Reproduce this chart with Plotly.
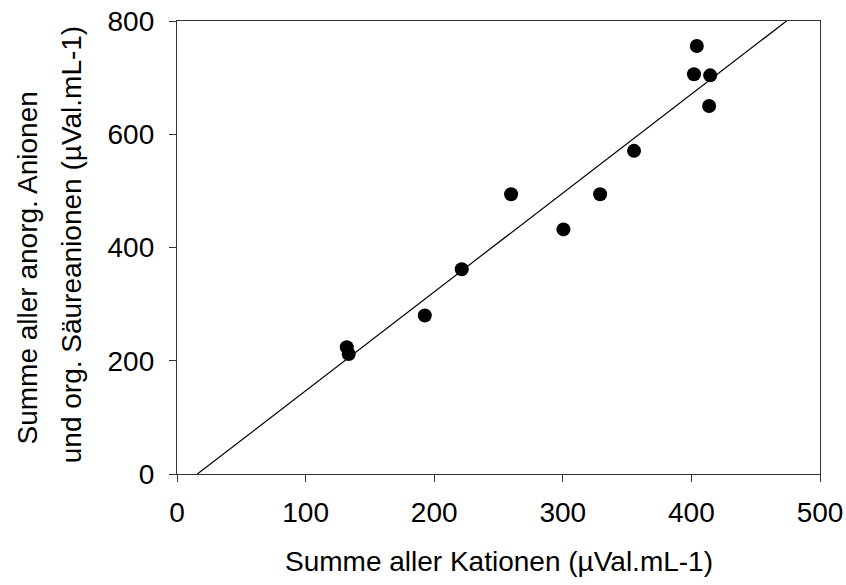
import plotly.graph_objects as go

# Data
kationen = [132, 133.5, 192.7, 221.4, 259.8, 300.5, 329, 355.4, 402, 404.2, 413.8, 414.6]
anionen = [224, 212, 280, 361.5, 494, 432, 494, 570.7, 706, 755.9, 650, 704]

# Regression line (y = slope * x + intercept), drawn across the y range 0..800
line_slope = 1.746
line_intercept = -27.6
line_y_ends = [0, 800]
line_x_ends = [(y - line_intercept) / line_slope for y in line_y_ends]

x_ticks = [0, 100, 200, 300, 400, 500]
y_ticks = [0, 200, 400, 600, 800]

FONT = "Liberation Sans, Arial, sans-serif"
FS = 28

fig = go.Figure()
fig.add_trace(go.Scatter(
    x=line_x_ends, y=line_y_ends, mode="lines",
    line=dict(color="black", width=1.2), hoverinfo="skip", showlegend=False))
fig.add_trace(go.Scatter(
    x=kationen, y=anionen, mode="markers",
    marker=dict(color="black", size=14), showlegend=False))

axis_common = dict(
    showline=True, linecolor="#333333", linewidth=1.3, mirror=True,
    ticks="outside", ticklen=7, tickwidth=1.3, tickcolor="#333333",
    showgrid=False, zeroline=False, automargin=False,
    tickfont=dict(family=FONT, size=FS, color="black"),
)

fig.update_xaxes(range=[0, 500], tickvals=x_ticks, ticklabelstandoff=6, **axis_common)
fig.update_yaxes(range=[0, 800], tickvals=y_ticks, ticklabelstandoff=9, **axis_common)

fig.update_layout(
    width=846, height=585,
    margin=dict(l=177, r=26, t=21, b=111),
    plot_bgcolor="white", paper_bgcolor="white",
    font=dict(family=FONT, size=FS, color="black"),
    annotations=[
        dict(text="Summe aller Kationen (µVal.mL-1)", xref="paper", yref="paper",
             x=0.5, y=-0.194, xanchor="center", yanchor="middle", showarrow=False,
             font=dict(family=FONT, size=FS, color="black")),
        dict(text="Summe aller anorg. Anionen", xref="paper", yref="paper",
             x=-0.233, y=0.454, xanchor="center", yanchor="middle", textangle=-90,
             showarrow=False, font=dict(family=FONT, size=FS, color="black")),
        dict(text="und org. Säureanionen (µVal.mL-1)", xref="paper", yref="paper",
             x=-0.165, y=0.507, xanchor="center", yanchor="middle", textangle=-90,
             showarrow=False, font=dict(family=FONT, size=FS, color="black")),
    ],
)

fig.write_html("out.html")
